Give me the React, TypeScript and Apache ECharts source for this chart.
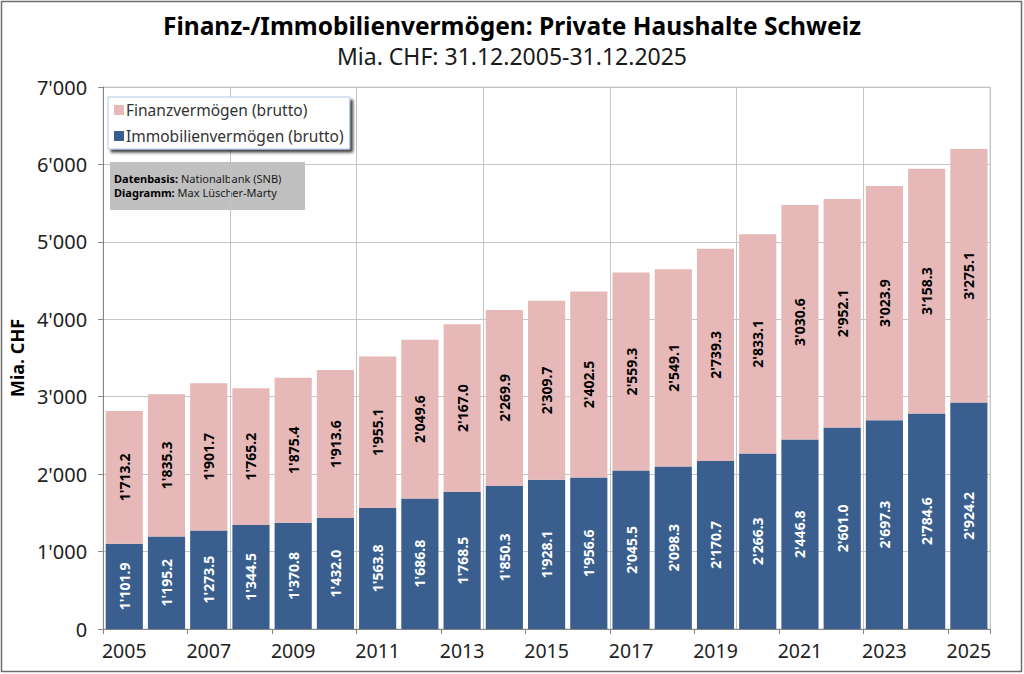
import { useEffect, useRef } from "react";
import * as echarts from "echarts";

const years = [
  "2005", "2006", "2007", "2008", "2009", "2010", "2011", "2012", "2013", "2014", "2015",
  "2016", "2017", "2018", "2019", "2020", "2021", "2022", "2023", "2024", "2025",
];

const immobilien = [
  1101.9, 1195.2, 1273.5, 1344.5, 1370.8, 1432.0, 1563.8, 1686.8, 1768.5, 1850.3, 1928.1,
  1956.6, 2045.5, 2098.3, 2170.7, 2266.3, 2446.8, 2601.0, 2697.3, 2784.6, 2924.2,
];

const finanz = [
  1713.2, 1835.3, 1901.7, 1765.2, 1875.4, 1913.6, 1955.1, 2049.6, 2167.0, 2269.9, 2309.7,
  2402.5, 2559.3, 2549.1, 2739.3, 2833.1, 3030.6, 2952.1, 3023.9, 3158.3, 3275.1,
];

const FONT = "Noto Sans";

// 1234.5 -> 1'234.5
function swiss(v: number, decimals: number) {
  const [int, dec] = v.toFixed(decimals).split(".");
  const grouped = int.replace(/\B(?=(\d{3})+(?!\d))/g, "'");
  return dec ? `${grouped}.${dec}` : grouped;
}

export default function App() {
  const chartRef = useRef<HTMLDivElement | null>(null);

  useEffect(() => {
    if (!chartRef.current) {
      return;
    }

    const chart = echarts.init(chartRef.current, undefined, { renderer: "svg" });
    chart.setOption({
      animation: false,
      backgroundColor: "#ffffff",
      textStyle: { fontFamily: FONT },
      title: {
        text: "Finanz-/Immobilienvermögen: Private Haushalte Schweiz",
        subtext: "Mia. CHF: 31.12.2005-31.12.2025",
        left: "center",
        top: 8,
        itemGap: 6,
        textStyle: { fontFamily: FONT, fontSize: 24.5, fontWeight: "bold", color: "#000000" },
        subtextStyle: { fontFamily: FONT, fontSize: 23, color: "#1a1a1a" },
      },
      legend: {
        orient: "vertical",
        left: 108,
        top: 97,
        data: ["Finanzvermögen (brutto)", "Immobilienvermögen (brutto)"],
        icon: "rect",
        itemWidth: 10,
        itemHeight: 10,
        itemGap: 10,
        padding: [5, 6, 5, 6],
        backgroundColor: "#ffffff",
        borderColor: "#b4c7e7",
        borderWidth: 1,
        shadowColor: "rgba(0,0,0,0.75)",
        shadowBlur: 3,
        shadowOffsetX: 3,
        shadowOffsetY: 3,
        textStyle: { fontFamily: FONT, fontSize: 15.5, color: "#333333", padding: [0, 0, 0, -3] },
      },
      grid: {
        left: 102,
        right: 34,
        top: 87,
        bottom: 45,
        show: true,
        borderColor: "#d4d4d4",
        borderWidth: 1,
      },
      xAxis: {
        type: "category",
        data: years,
        boundaryGap: true,
        axisLine: { lineStyle: { color: "#868686" } },
        axisTick: {
          show: true,
          length: 5,
          interval: (index: number) => index % 2 === 0,
          lineStyle: { color: "#868686" },
        },
        axisLabel: {
          interval: (index: number) => index % 2 === 0,
          fontSize: 19.5,
          color: "#222222",
          margin: 11,
        },
        splitLine: {
          show: true,
          interval: (index: number) => index % 3 === 0,
          lineStyle: { color: "#c4c4c4" },
        },
      },
      yAxis: {
        type: "value",
        min: 0,
        max: 7000,
        interval: 1000,
        name: "Mia. CHF",
        nameLocation: "middle",
        nameGap: 68,
        nameTextStyle: { fontFamily: FONT, fontSize: 18, fontWeight: "bold", color: "#000000" },
        axisLine: { show: true, lineStyle: { color: "#868686" } },
        axisTick: { show: true, length: 5, lineStyle: { color: "#868686" } },
        axisLabel: {
          fontSize: 20,
          color: "#222222",
          margin: 16,
          formatter: (v: number) => swiss(v, 0),
        },
        splitLine: { lineStyle: { color: "#c4c4c4" } },
      },
      series: [
        {
          name: "Immobilienvermögen (brutto)",
          type: "bar",
          stack: "total",
          barCategoryGap: "12%",
          itemStyle: { color: "#3a5f8f" },
          label: {
            show: true,
            position: "inside",
            rotate: 90,
            color: "#ffffff",
            fontSize: 14,
            fontWeight: "bold",
            formatter: (p: { value: number }) => swiss(p.value, 1),
          },
          data: immobilien,
        },
        {
          name: "Finanzvermögen (brutto)",
          type: "bar",
          stack: "total",
          barCategoryGap: "12%",
          itemStyle: { color: "#e6b9b8" },
          label: {
            show: true,
            position: "inside",
            rotate: 90,
            color: "#000000",
            fontSize: 14,
            fontWeight: "bold",
            formatter: (p: { value: number }) => swiss(p.value, 1),
          },
          data: finanz,
        },
      ],
      graphic: [
        {
          type: "group",
          left: 110,
          top: 162,
          z: 100,
          children: [
            {
              type: "rect",
              shape: { x: 0, y: 0, width: 195, height: 48 },
              style: { fill: "#c0c0c0" },
            },
            {
              type: "text",
              x: 4,
              y: 9,
              style: {
                text: "{b|Datenbasis:} Nationalbank (SNB)\n{b|Diagramm:} Max Lüscher-Marty",
                font: `11px "${FONT}"`,
                fill: "#1a1a1a",
                lineHeight: 14,
                rich: {
                  b: { fontWeight: "bold", fontSize: 11, fontFamily: FONT, fill: "#000000", lineHeight: 14 },
                },
              },
            },
          ],
        },
        {
          type: "rect",
          z: 100,
          shape: { x: 1.5, y: 1.5, width: 1020, height: 670 },
          style: { fill: "none", stroke: "#6e6e6e", lineWidth: 1.5 },
        },
      ],
    });

    return () => {
      chart.dispose();
    };
  }, []);

  return (
    <div
      ref={chartRef}
      style={{ position: "absolute", left: 0, top: 0, width: 1024, height: 674 }}
    />
  );
}
